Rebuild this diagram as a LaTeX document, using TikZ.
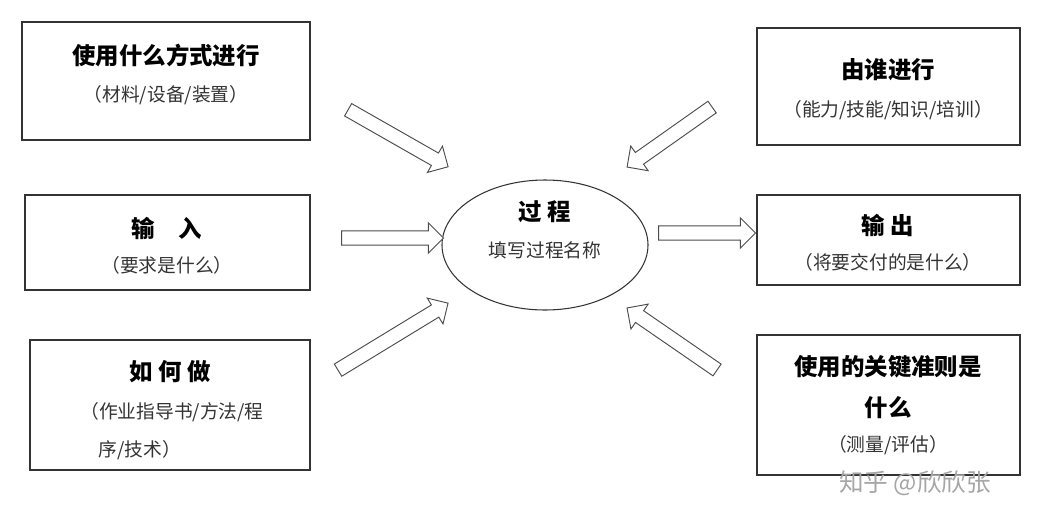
\documentclass[tikz,border=0pt]{standalone}
\usepackage{fontspec}
\setmainfont{Noto Sans CJK SC}
\usetikzlibrary{shapes.arrows,calc}
\tikzset{
  box/.style={draw=black!80, line width=0.9pt},
  ttl/.style={font=\fontsize{20}{22}\selectfont\bfseries},
  sub/.style={font=\fontsize{16}{18}\selectfont, text=black!80},
  blk/.style={single arrow, draw=black!70, line width=0.8pt, fill=white,
    inner xsep=0pt, inner ysep=0.2cm, text height=0pt, text depth=0pt,
    single arrow head extend=0.24cm, single arrow head indent=0cm},
}
\begin{document}
\begin{tikzpicture}[x=0.03cm,y=-0.03cm]
\useasboundingbox (0,0) rectangle (1037,525);

% -----------------------------
% Boxes
% -----------------------------
\draw[box] (22,22) rectangle (310,140);
\node[ttl] (tl1) at (166,55) {使用什么方式进行};
\node[sub] (tl2) at (166,95) {（材料/设备/装置）};

\draw[box] (25,195) rectangle (310,290);
\node[ttl] (ml1) at (167,228) {输\quad 入};
\node[sub] (ml2) at (167,265) {（要求是什么）};

\draw[box] (30,340) rectangle (310,470);
\node[ttl] (bl1) at (170,372) {如\ 何\ 做};
\node[sub] (bl2) at (172,412) {（作业指导书/方法/程};
\node[sub] (bl3) at (140,450) {序/技术）};

\draw[box] (757,28) rectangle (1020,145);
\node[ttl] (tr1) at (888,70) {由谁进行};
\node[sub] (tr2) at (888,110) {（能力/技能/知识/培训）};

\draw[box] (757,195) rectangle (1020,285);
\node[ttl] (mr1) at (888,225) {输\ 出};
\node[sub] (mr2) at (888,262) {（将要交付的是什么）};

\draw[box] (757,335) rectangle (1020,475);
\node[ttl] (br1) at (888,367) {使用的关键准则是};
\node[ttl] (br2) at (888,408) {什么};
\node[sub] (br3) at (888,445) {（测量/评估）};

% -----------------------------
% Process
% -----------------------------
\draw[box] (545,245) ellipse [x radius=3.09cm, y radius=1.95cm];
\node[ttl] (p1) at (545,212) {过\ 程};
\node[sub] (p2) at (545,250) {填写过程名称};

% -----------------------------
% Block arrows
% -----------------------------
\foreach \xa/\ya/\xb/\yb in {345/108/445/165, 338/238/440/238, 335/372/445/305,
                   715/105/630/165, 655/233/752/233, 720/372/630/310}{
  \pgfmathsetmacro{\ang}{atan2(-(\yb-\ya),\xb-\xa)}
  \pgfmathsetmacro{\len}{0.03*veclen(\xb-\xa,\yb-\ya)}
  \node[blk, rotate=\ang, minimum height=\len cm]
    at ({(\xa+\xb)/2},{(\ya+\yb)/2}) {};
}

% watermark
\node[font=\fontsize{21}{23}\selectfont, text=black!35] (wm) at (915,483) {知乎 @欣欣张};
\end{tikzpicture}
\end{document}
